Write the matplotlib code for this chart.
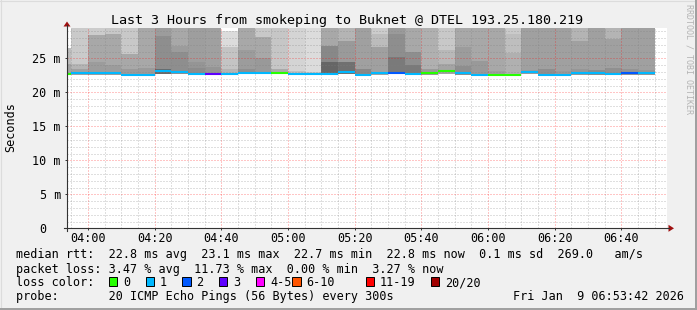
import matplotlib
matplotlib.use("Agg")
import matplotlib.pyplot as plt
from matplotlib.ticker import MultipleLocator
from matplotlib.patches import Rectangle, Polygon
from matplotlib.lines import Line2D

plt.rcParams['font.family'] = ['DejaVu Sans Mono']

# --- данные (5-минутные интервалы) ---
slot_start = ["03:50", "03:55", "04:00", "04:05", "04:10", "04:15", "04:20", "04:25",
              "04:30", "04:35", "04:40", "04:45", "04:50", "04:55", "05:00", "05:05",
              "05:10", "05:15", "05:20", "05:25", "05:30", "05:35", "05:40", "05:45",
              "05:50", "05:55", "06:00", "06:05", "06:10", "06:15", "06:20", "06:25",
              "06:30", "06:35", "06:40", "06:45"]
median_ms = [22.7, 22.8, 22.8, 22.8, 22.6, 22.5, 23.1, 23.0, 22.7, 22.7, 22.7, 22.9,
             22.9, 22.9, 22.7, 22.7, 22.7, 23.0, 22.6, 22.8, 22.9, 22.7, 22.8, 23.1,
             22.8, 22.6, 22.6, 22.6, 23.0, 22.6, 22.6, 22.8, 22.8, 22.7, 22.8, 22.8]
lost_pings = [0, 1, 1, 1, 1, 1, 1, 1, 1, 3, 1, 1, 1, 0, 1, 1, 1, 1, 1, 1, 2, 1, 0, 0,
              1, 1, 0, 0, 1, 1, 1, 1, 1, 1, 2, 1]
smoke_min = [22.5, 22.6, 22.6, 22.6, 22.5, 22.4, 22.7, 22.7, 22.5, 22.5, 22.5, 22.7,
             22.7, 22.7, 22.6, 22.6, 22.6, 22.7, 22.5, 22.6, 22.7, 22.6, 22.6, 22.7,
             22.6, 22.5, 22.5, 22.5, 22.7, 22.5, 22.5, 22.6, 22.6, 22.6, 22.6, 22.6]
# границы полос дыма (мс) и их плотность (уровень серого)
band1_top = [24.2, 23.4, 24.4, 24.0, 23.5, 23.6, 23.4, 25.9, 23.6, 23.7, 23.5, 23.5,
             25.0, 23.5, 23.1, 23.0, 24.5, 24.4, 23.5, 26.7, 25.2, 24.0, 23.5, 24.2,
             23.9, 24.6, 23.2, 25.8, 23.3, 23.5, 23.1, 23.5, 23.3, 23.6, 23.5, 23.3]
band2_top = [26.5, 24.2, 28.4, 28.6, 25.7, 30.0, 28.3, 26.8, 24.5, 30.0, 26.7, 26.2,
             28.1, 30.0, 30.0, 30.0, 26.8, 27.6, 30.0, 28.6, 28.6, 25.9, 30.0, 26.2,
             26.6, 30.0, 30.0, 28.6, 30.0, 30.0, 30.0, 27.6, 30.0, 27.8, 30.0, 30.0]
band3_top = [26.5, 30.0, 30.0, 30.0, 30.0, 30.0, 30.0, 30.0, 30.0, 30.0, 29.0, 30.0,
             30.0, 30.0, 30.0, 30.0, 30.0, 30.0, 30.0, 30.0, 30.0, 30.0, 30.0, 30.0,
             30.0, 30.0, 30.0, 30.0, 30.0, 30.0, 30.0, 30.0, 30.0, 30.0, 30.0, 30.0]
band1_gray = [0xa4, 0xa0, 0x9c, 0x9c, 0x9a, 0x9a, 0x6a, 0x8e, 0x8c, 0x95, 0xb4, 0x8f,
              0x99, 0xaa, 0xc0, 0xc8, 0x66, 0x70, 0x88, 0xa0, 0x7a, 0x7a, 0x9a, 0xa4,
              0x8e, 0x99, 0x9e, 0xb0, 0x99, 0x8e, 0x99, 0x96, 0x8c, 0x90, 0x93, 0x96]
band2_gray = [0xbc, 0xb4, 0xa8, 0xa8, 0xa8, 0xa8, 0x8e, 0x9c, 0x95, 0xa0, 0xc4, 0x9c,
              0xa8, 0xc6, 0xd4, 0xdc, 0x88, 0x9a, 0xa0, 0xbc, 0x8e, 0x8e, 0xb0, 0xb8,
              0x9c, 0xa8, 0xa8, 0xbe, 0xa0, 0xa0, 0xa0, 0xa0, 0xa0, 0xa0, 0xa0, 0xa0]
band3_gray = [0xc8, 0xca, 0xcc, 0xc8, 0xc8, 0xa8, 0x9c, 0xa8, 0x9e, 0xa0, 0xdc, 0xa8,
              0xc8, 0xc6, 0xd4, 0xdc, 0xa8, 0xb4, 0xa0, 0xcc, 0x9a, 0xa8, 0xb0, 0xc8,
              0xa8, 0xa8, 0xa8, 0xca, 0xa0, 0xa0, 0xa0, 0xb4, 0xa0, 0xb4, 0xa0, 0xa0]

loss_labels = ["0", "1", "2", "3", "4-5", "6-10", "11-19", "20/20"]
loss_colors = ["#26ff00", "#00b8ff", "#0059ff", "#5e00ff", "#ff00ff", "#ff5500",
               "#ff0000", "#a10000"]

x_tick_labels = ["04:00", "04:20", "04:40", "05:00", "05:20", "05:40", "06:00",
                 "06:20", "06:40"]
y_tick_vals = [0, 5, 10, 15, 20, 25]
y_tick_units = ["", "m", "m", "m", "m", "m"]

title = "Last 3 Hours from smokeping to Buknet @ DTEL 193.25.180.219"
rtt_line = "median rtt:  22.8 ms avg  23.1 ms max  22.7 ms min  22.8 ms now  0.1 ms sd  269.0   am/s"
loss_line = "packet loss: 3.47 % avg  11.73 % max  0.00 % min  3.27 % now"
probe_line = "probe:       20 ICMP Echo Pings (56 Bytes) every 300s"
stamp = "Fri Jan  9 06:53:42 2026"
t_start, t_end = "03:53:42", "06:53:42"


def to_min(s):
    parts = [int(p) for p in s.split(":")]
    return parts[0] * 60 + parts[1] + (parts[2] / 60 if len(parts) > 2 else 0)


def gray(g):
    return "#%02x%02x%02x" % (g, g, g)


t = [to_min(s) for s in slot_start]

# --- рисунок ---
W, H = 697, 310
fig = plt.figure(figsize=(W / 100, H / 100), dpi=100)
fig.patch.set_facecolor("#f0f0f0")


def fx(x):
    return x / W


def fy(y):
    return 1 - y / H


ax = fig.add_axes([fx(67), fy(228.3), 600 / W, 200 / H])
ax.set_facecolor("white")
ax.set_xlim(to_min(t_start), to_min(t_end))
ax.set_ylim(0, 200 / 6.8)

# дым: три полосы
b1 = [a - b for a, b in zip(band1_top, smoke_min)]
b2 = [a - b for a, b in zip(band2_top, band1_top)]
b3 = [a - b for a, b in zip(band3_top, band2_top)]
kw = dict(width=5, align="edge", linewidth=0, antialiased=False, zorder=1)
ax.bar(t, b1, bottom=smoke_min, color=[gray(g) for g in band1_gray], **kw)
ax.bar(t, b2, bottom=band1_top, color=[gray(g) for g in band2_gray], **kw)
ax.bar(t, b3, bottom=band2_top, color=[gray(g) for g in band3_gray], **kw)

# медиана с цветом потерь
ax.hlines(median_ms, t, [v + 5 for v in t], colors=[loss_colors[n] for n in lost_pings],
          linewidth=1.5, zorder=3)

# сетка
ax.set_xticks([to_min(s) for s in x_tick_labels])
ax.set_xticklabels(x_tick_labels, fontsize=8.5)
ax.xaxis.set_minor_locator(MultipleLocator(5))
ax.set_yticks(y_tick_vals)
ax.set_yticklabels([])
ax.yaxis.set_minor_locator(MultipleLocator(1))
ax.set_axisbelow(False)
ax.grid(which="major", color="#ff0000", alpha=0.45, linestyle=(0, (1, 2)), linewidth=0.72)
ax.grid(which="minor", color="#808080", alpha=0.5, linestyle=(0, (1, 2)), linewidth=0.72)
ax.tick_params(which="major", length=1.5, width=0.7, color="#333333", pad=1.2)
ax.tick_params(which="minor", length=0)
for sp in ax.spines.values():
    sp.set_visible(False)

for v, u in zip(y_tick_vals, y_tick_units):
    off = 6 if u else 6 + 2 * 7.1
    ax.annotate(f"{v} {u}".rstrip(), xy=(0, v), xycoords=("axes fraction", "data"),
                xytext=(-off * 0.72, -3.1), textcoords="offset points",
                ha="right", va="baseline", fontsize=8.5)

# оси со стрелками
axis_c = "#333333"
fig.add_artist(Line2D([fx(67), fx(67)], [fy(231), fy(25)], color=axis_c, lw=0.8))
fig.add_artist(Line2D([fx(64), fx(669)], [fy(228.3), fy(228.3)], color=axis_c, lw=0.8))
fig.add_artist(Polygon([[fx(63.5), fy(26.5)], [fx(70.5), fy(26.5)], [fx(67), fy(21.5)]],
                       closed=True, fc="#a01010", ec="none", transform=fig.transFigure))
fig.add_artist(Polygon([[fx(668.5), fy(224.8)], [fx(668.5), fy(231.8)], [fx(674), fy(228.3)]],
                       closed=True, fc="#a01010", ec="none", transform=fig.transFigure))

# тексты
fig.text(fx(347.3), fy(24.3), title, ha="center", va="baseline", fontsize=9.6)
fig.text(fx(10.5), fy(127.5), "Seconds", rotation=90, ha="center", va="center", fontsize=8.5)
fig.text(fx(688.5), fy(4), "RRDTOOL / TOBI OETIKER", rotation=270, ha="center", va="top",
         fontsize=6.0, color="#b4b4b4")
fig.text(fx(15.8), fy(258.3), rtt_line, va="baseline", fontsize=8.5)
fig.text(fx(15.8), fy(272.6), loss_line, va="baseline", fontsize=8.5)
fig.text(fx(15.8), fy(286.2), "loss color:", va="baseline", fontsize=8.5)
fig.text(fx(15.8), fy(300.4), probe_line, va="baseline", fontsize=8.5)
fig.text(fx(512.8), fy(300.4), stamp, va="baseline", fontsize=8.5)

sq_x = [109, 145.7, 182.3, 219, 255.7, 292.3, 365.7, 430.7]
for x, lab, c in zip(sq_x, loss_labels, loss_colors):
    fig.add_artist(Rectangle((fx(x), fy(285.7)), 8.3 / W, 8.3 / H, transform=fig.transFigure,
                             fc=c, ec="black", lw=0.7))
    fig.text(fx(x + 14.3), fy(286.2), lab, va="baseline", fontsize=8.5)

# рамка
fig.add_artist(Line2D([0, 1], [fy(0.5), fy(0.5)], color="#dcdcdc", lw=0.8))
fig.add_artist(Line2D([fx(0.5), fx(0.5)], [0, 1], color="#dcdcdc", lw=0.8))
fig.add_artist(Line2D([0, 1], [fy(309), fy(309)], color="#a0a0a0", lw=1.44))
fig.add_artist(Line2D([fx(696), fx(696)], [0, 1], color="#a0a0a0", lw=1.44))

fig.savefig("out.png", dpi=100, facecolor=fig.get_facecolor())
